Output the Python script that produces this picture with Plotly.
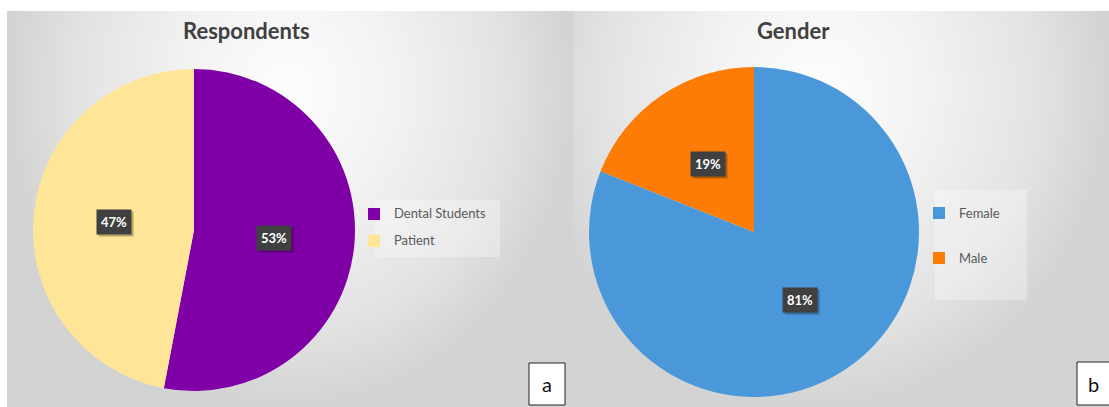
import math
import plotly.graph_objects as go

# ---------------- data ----------------
resp_labels = ["Dental Students", "Patient"]
resp_values = [53, 47]
resp_colors = ["#7e00a6", "#ffe597"]

gender_labels = ["Female", "Male"]
gender_values = [81, 19]
gender_colors = ["#4a98da", "#fd7c06"]

titles = ["Respondents", "Gender"]
panel_tags = ["a", "b"]

# ---------------- geometry (px) ----------------
W, H = 1109, 407
FONT = "Lato"
LEG_TEXT_SIZE = 13
PANEL_TOP = 11
PANELS = [(7, 572), (572, 1109)]
GRAD_CENTER = [(290, 90), (820, 90)]
PIES = [(194, 230, 161), (754, 232, 165)]  # cx, cy, r
TITLE_POS = [(246, 30), (793, 30)]
TAG_BOX = [(529, 363, 565, 405), (1077, 362, 1113, 405)]
LEG_BOX = [(375, 200, 500, 257), (935, 190, 1027, 300)]
LEG_POS = [(354, 227.5), (919, 235.5)]
LEG_SPACING = [27, 45]


def px(x):
    return x / W


def py(y):
    return 1 - y / H


def label_positions(values, cx, cy, r, frac=0.5):
    total = sum(values)
    out, start = [], 0.0
    for v in values:
        mid = (start + v / 2) / total * 2 * math.pi
        out.append((cx + frac * r * math.sin(mid), cy - frac * r * math.cos(mid)))
        start += v
    return out


fig = go.Figure()

# background panels (radial gradient), right first so the left one covers any overlap
for i in [1, 0]:
    x0, x1 = PANELS[i]
    gx, gy = GRAD_CENTER[i]
    bx0 = min(x0, 2 * gx - x1)
    bx1 = max(x1, 2 * gx - x0)
    top = 2 * gy - H
    fig.add_trace(go.Scatter(
        x=[bx0, bx1, bx1, bx0, bx0], y=[top, top, H, H, top],
        mode="lines", line=dict(width=0), fill="toself",
        fillgradient=dict(type="radial", colorscale=[
            [0, "#fdfdfd"], [0.35, "#f3f3f3"], [0.75, "#e3e3e3"], [1, "#d3d3d3"]]),
        hoverinfo="skip", showlegend=False))

datasets = [
    (resp_labels, resp_values, resp_colors, "legend"),
    (gender_labels, gender_values, gender_colors, "legend2"),
]

annotations = []
shapes = []
legend_fonts = []
for i, (labels, values, colors, leg) in enumerate(datasets):
    cx, cy, r = PIES[i]
    # legend row height in plotly = 1.3 * font size + 3
    F = (LEG_SPACING[i] - 3) / 1.3
    legend_fonts.append(F)
    shift = round(0.39 * F - 0.36 * LEG_TEXT_SIZE)
    shown = [f'<span style="font-size:{LEG_TEXT_SIZE}px;baseline-shift:{shift}px">{lab}</span>'
             for lab in labels]
    fig.add_trace(go.Pie(
        labels=shown, values=values, sort=False, direction="clockwise", rotation=0,
        customdata=labels,
        marker=dict(colors=colors, line=dict(width=0)),
        textinfo="none", hovertemplate="%{customdata}: %{value}%<extra></extra>",
        domain=dict(x=[px(cx - r), px(cx + r)], y=[py(cy + r), py(cy - r)]),
        legend=leg, showlegend=True))
    for (lx, ly), v in zip(label_positions(values, cx, cy, r), values):
        txt = f"<b>{v}%</b>"
        annotations.append(dict(x=px(lx), y=py(ly), xref="paper", yref="paper",
                                xanchor="center", yanchor="middle",
                                text=txt, showarrow=False, xshift=2, yshift=-2,
                                font=dict(family=FONT, size=13, color="rgba(0,0,0,0)"),
                                bgcolor="rgba(0,0,0,0.28)", borderpad=4))
        annotations.append(dict(x=px(lx), y=py(ly), xref="paper", yref="paper",
                                xanchor="center", yanchor="middle",
                                text=txt, showarrow=False,
                                font=dict(family=FONT, size=13, color="white"),
                                bgcolor="#404040", borderpad=4))
    tx, ty = TITLE_POS[i]
    annotations.append(dict(x=px(tx), y=py(ty), xref="paper", yref="paper",
                            text=f"<b>{titles[i]}</b>", showarrow=False,
                            xanchor="center", yanchor="middle",
                            font=dict(family=FONT, size=22, color="#404040")))
    bx0, by0, bx1, by1 = TAG_BOX[i]
    shapes.append(dict(type="rect", xref="paper", yref="paper", layer="above",
                       x0=px(bx0), x1=px(bx1), y0=py(by1), y1=py(by0),
                       fillcolor="white", line=dict(color="#222222", width=1)))
    annotations.append(dict(x=px((bx0 + min(bx1, W)) / 2), y=py((by0 + by1) / 2),
                            xref="paper", yref="paper", text=panel_tags[i],
                            xanchor="center", yanchor="middle",
                            showarrow=False, font=dict(family=FONT, size=20, color="#111111")))
    lx0, ly0, lx1, ly1 = LEG_BOX[i]
    shapes.append(dict(type="rect", xref="paper", yref="paper", layer="above",
                       x0=px(lx0), x1=px(lx1), y0=py(ly1), y1=py(ly0),
                       fillcolor="rgba(255,255,255,0.3)", line=dict(width=0)))

legend_common = dict(xanchor="left", yanchor="middle", bgcolor="rgba(0,0,0,0)")

fig.update_layout(
    width=W, height=H,
    margin=dict(l=0, r=0, t=0, b=0),
    paper_bgcolor="white", plot_bgcolor="rgba(0,0,0,0)",
    xaxis=dict(range=[0, W], visible=False, fixedrange=True, domain=[0, 1]),
    yaxis=dict(range=[H, PANEL_TOP], visible=False, fixedrange=True,
               domain=[0, (H - PANEL_TOP) / H]),
    legend=dict(x=px(LEG_POS[0][0]), y=py(LEG_POS[0][1]),
                font=dict(family=FONT, size=legend_fonts[0], color="#595959"), **legend_common),
    legend2=dict(x=px(LEG_POS[1][0]), y=py(LEG_POS[1][1]),
                 font=dict(family=FONT, size=legend_fonts[1], color="#595959"), **legend_common),
    annotations=annotations,
    shapes=shapes,
    font=dict(family=FONT),
)

fig.write_html("out.html", config={"displayModeBar": False},
               post_script="document.body.style.margin='0';document.body.style.overflow='hidden';")
